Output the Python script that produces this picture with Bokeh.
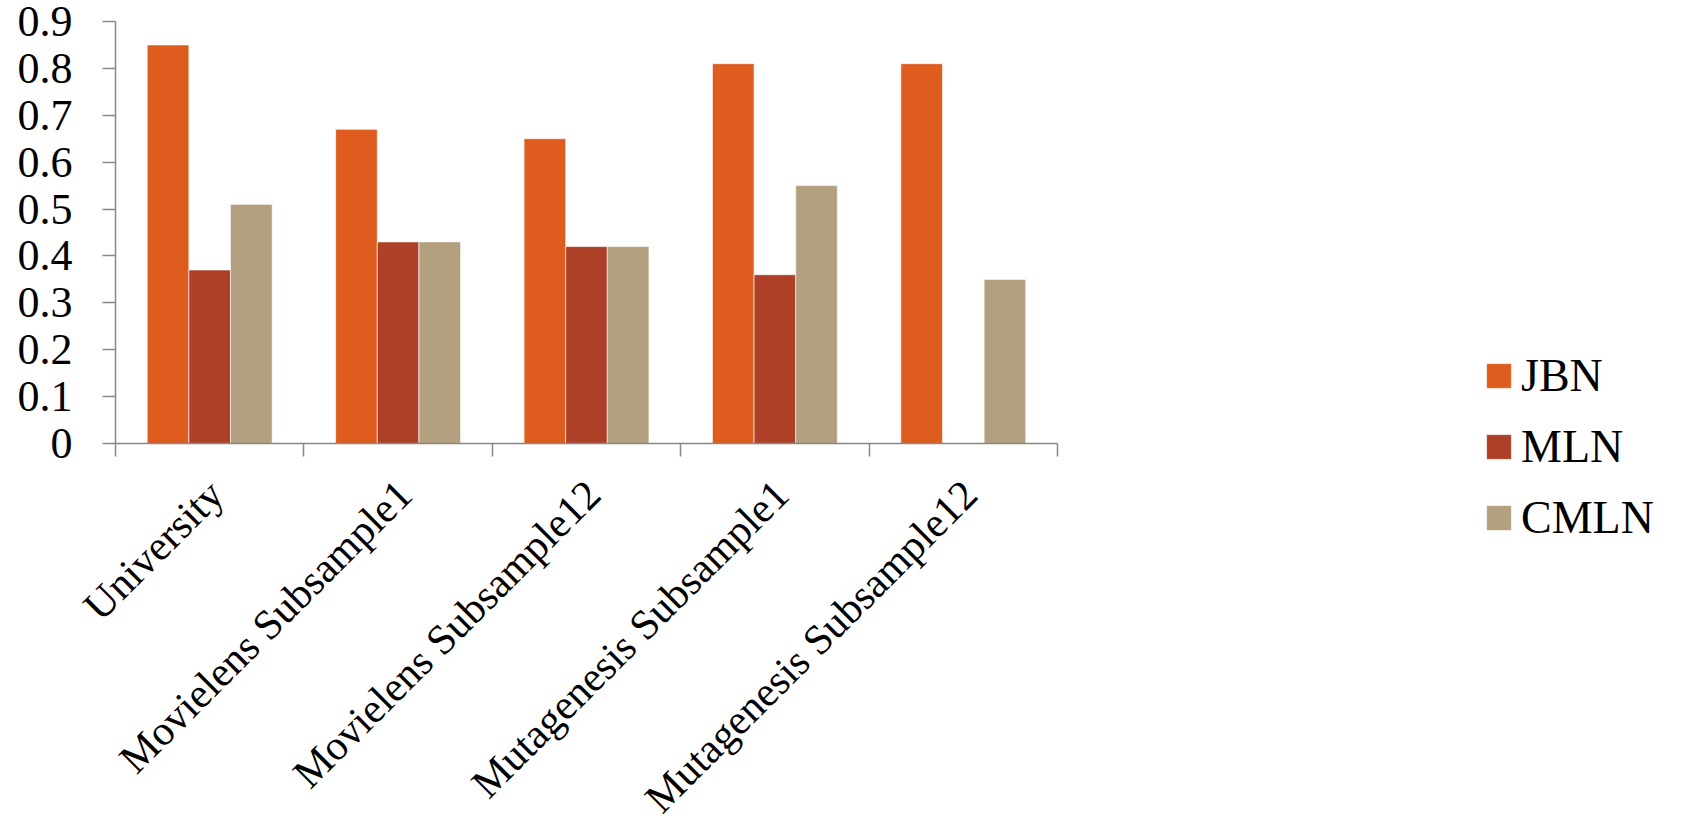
import math
from bokeh.plotting import figure
from bokeh.models import (ColumnDataSource, FixedTicker, CustomJSTickFormatter, Legend, LegendItem, Range1d)
from bokeh.embed import file_html
from bokeh.resources import INLINE

categories = ["University", "Movielens Subsample1", "Movielens Subsample12",
              "Mutagenesis Subsample1", "Mutagenesis Subsample12"]
series_names = ["JBN", "MLN", "CMLN"]
jbn = [0.85, 0.67, 0.65, 0.81, 0.81]
mln = [0.37, 0.43, 0.42, 0.36, 0.0]
cmln = [0.51, 0.43, 0.42, 0.55, 0.35]
colors = ["#DE5D1E", "#AE4028", "#B2A07E"]
y_ticks = [0, 0.1, 0.2, 0.3, 0.4, 0.5, 0.6, 0.7, 0.8, 0.9]

FONT = "Liberation Serif"
W, H = 1697, 840
left, right_edge, top, bottom = 115, 1099, 21, 445

p = figure(width=W, height=H, output_backend="svg", toolbar_location=None,
           x_range=Range1d(0, len(categories)), y_range=Range1d(0, 0.9),
           min_border_left=left, min_border_right=W - right_edge,
           min_border_top=top, min_border_bottom=H - bottom)
p.outline_line_color = None
p.xgrid.visible = False
p.ygrid.visible = False

centers = [i + 0.5 for i in range(len(categories))]
bw = 0.221
offsets = [-bw, 0.0, bw]
renderers = []
for name, vals, col, off in zip(series_names, [jbn, mln, cmln], colors, offsets):
    src = ColumnDataSource(dict(x=[c + off for c in centers], top=vals))
    r = p.vbar(x="x", top="top", width=bw, source=src, fill_color=col,
               line_color="white", line_width=0.6)
    renderers.append((name, r))

axis_col = "#888888"
ya = p.yaxis[0]
ya.ticker = FixedTicker(ticks=y_ticks)
ya.formatter = CustomJSTickFormatter(code="return tick == 0 ? '0' : tick.toFixed(1);")
ya.axis_line_color = axis_col
ya.axis_line_width = 1.5
ya.major_tick_line_color = axis_col
ya.major_tick_line_width = 1.5
ya.major_tick_out = 13
ya.major_tick_in = 0
ya.minor_tick_line_color = None
ya.major_label_text_font = FONT
ya.major_label_text_font_size = "44px"
ya.major_label_text_color = "black"
ya.major_label_standoff = 30

xa = p.xaxis[0]
label_shift = 0.035
xa.ticker = FixedTicker(ticks=[c + label_shift for c in centers],
                        minor_ticks=list(range(len(categories) + 1)))
xa.formatter = CustomJSTickFormatter(args=dict(names=categories),
                                     code="return names[Math.floor(tick)];")
xa.axis_line_color = axis_col
xa.axis_line_width = 1.5
xa.major_tick_line_color = None
xa.minor_tick_line_color = axis_col
xa.minor_tick_line_width = 1.5
xa.minor_tick_out = 13
xa.minor_tick_in = 0
xa.major_label_orientation = math.pi / 4
xa.major_label_text_font = FONT
xa.major_label_text_font_size = "42px"
xa.major_label_text_color = "black"
xa.major_label_standoff = 31

legend = Legend(items=[LegendItem(label=n, renderers=[r]) for n, r in renderers],
                location=(426, -102), orientation="vertical", ncols=1,
                glyph_width=31, glyph_height=31, label_height=56,
                label_standoff=7, spacing=15, padding=0, margin=0,
                border_line_color=None, background_fill_alpha=0,
                label_text_font=FONT, label_text_font_size="46px",
                label_text_color="black")
p.add_layout(legend, "right")

open("out.html", "w").write(file_html(p, INLINE))
